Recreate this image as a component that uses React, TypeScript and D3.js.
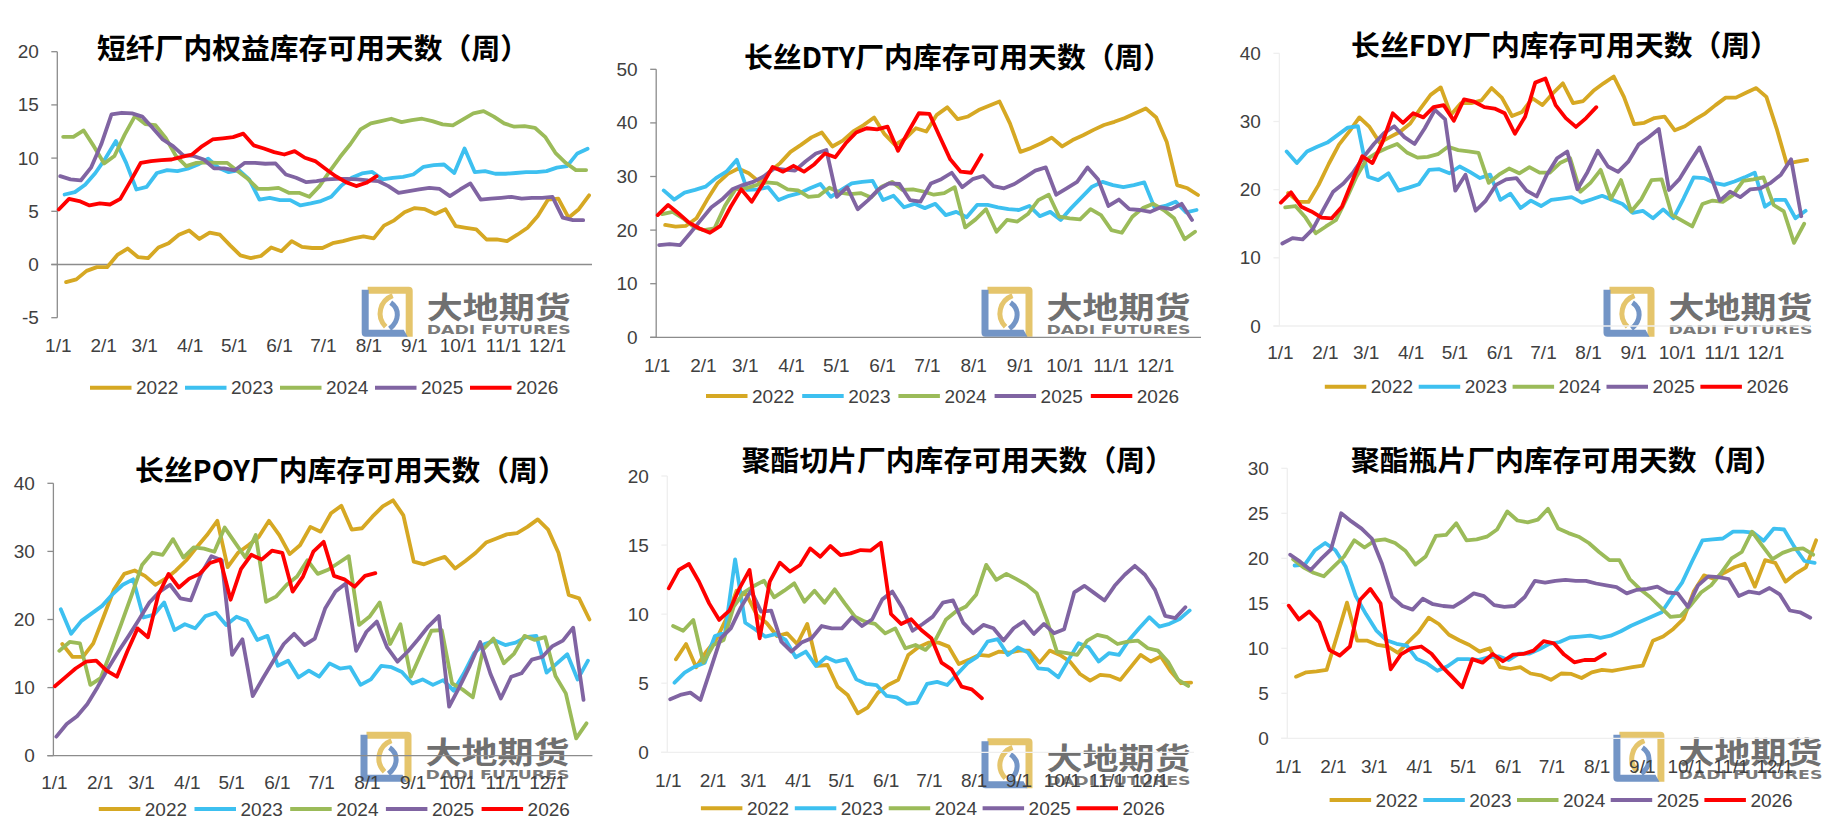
import * as d3 from "d3";

// ---- data ----
const years = ["2022", "2023", "2024", "2025", "2026"];
const firstWeeks = ["2022-01-07", "2023-01-06", "2024-01-05", "2025-01-03", "2026-01-02"];
const lineColors = ["#D6A823", "#3DC0F0", "#9BBB59", "#8064A2", "#FF0000"];
const monthTicks = ["1/1", "2/1", "3/1", "4/1", "5/1", "6/1", "7/1", "8/1", "9/1", "10/1", "11/1", "12/1"];

// 短纤厂内权益库存可用天数
const psf2022 = [-1.66, -1.4, -0.6, -0.25, -0.25, 0.9, 1.5, 0.7, 0.6, 1.6, 2.0, 2.8, 3.2, 2.4, 3.0, 2.8, 1.8, 0.85, 0.6, 0.8, 1.6, 1.25, 2.2, 1.65, 1.55, 1.55, 2.0, 2.2, 2.45, 2.65, 2.45, 3.65, 4.15, 4.9, 5.3, 5.2, 4.75, 5.2, 3.6, 3.45, 3.3, 2.35, 2.35, 2.2, 2.8, 3.45, 4.55, 6.1, 6.2, 4.4, 5.2, 6.5];
const psf2023 = [6.58, 6.8, 7.5, 8.6, 10.0, 11.6, 9.55, 7.05, 7.3, 8.6, 8.87, 8.78, 9.0, 9.4, 9.94, 9.1, 8.68, 8.87, 8.0, 6.1, 6.27, 6.05, 6.05, 5.55, 5.74, 5.96, 6.36, 7.43, 8.15, 8.56, 8.7, 8.0, 8.15, 8.24, 8.46, 9.18, 9.34, 9.4, 8.6, 10.9, 8.68, 8.78, 8.53, 8.53, 8.6, 8.68, 8.68, 8.78, 9.1, 9.25, 10.44, 10.88];
const psf2024 = [12.0, 12.0, 12.6, 11.1, 9.5, 10.2, 12.2, 13.95, 13.2, 13.1, 11.9, 10.2, 9.25, 9.55, 9.6, 9.55, 9.55, 8.78, 8.05, 7.1, 7.1, 7.2, 6.74, 6.74, 6.36, 7.37, 8.78, 10.1, 11.3, 12.7, 13.26, 13.48, 13.7, 13.38, 13.57, 13.7, 13.48, 13.17, 13.07, 13.64, 14.2, 14.42, 13.9, 13.26, 12.95, 13.0, 12.85, 12.0, 10.5, 9.56, 8.87, 8.87];
const psf2025 = [8.3, 8.0, 7.9, 9.1, 11.3, 14.1, 14.26, 14.2, 13.9, 12.85, 11.75, 11.13, 10.25, 10.2, 9.87, 9.03, 9.03, 8.84, 9.56, 9.56, 9.47, 9.5, 8.46, 8.15, 7.74, 7.84, 8.0, 8.05, 8.05, 8.0, 7.9, 7.84, 7.37, 6.74, 6.9, 7.05, 7.2, 7.1, 6.43, 7.05, 7.62, 6.1, 6.2, 6.27, 6.36, 6.2, 6.27, 6.27, 6.36, 4.4, 4.17, 4.17];
const psf2026 = [5.17, 6.17, 5.96, 5.55, 5.74, 5.64, 6.17, 7.84, 9.56, 9.72, 9.8, 9.87, 10.12, 10.34, 11.13, 11.75, 11.85, 11.97, 12.3, 11.2, 10.9, 10.56, 10.34, 10.66, 10.03, 9.72, 9.0, 8.3, 7.74, 7.37, 7.68, 8.3];

// 长丝DTY
const dty2022 = [20.96, 20.65, 20.8, 22.2, 25.6, 28.7, 30.5, 31.5, 30.6, 29.0, 30.9, 32.5, 34.6, 35.9, 37.3, 38.2, 35.6, 36.7, 38.4, 39.6, 41.0, 37.9, 35.9, 37.1, 39.0, 38.4, 41.5, 42.9, 40.7, 41.2, 42.4, 43.2, 44.0, 39.9, 34.6, 35.3, 36.2, 37.25, 35.6, 36.8, 37.7, 38.7, 39.6, 40.2, 40.9, 41.8, 42.7, 41.0, 36.5, 28.4, 27.8, 26.55];
const dty2023 = [27.4, 25.7, 27.0, 27.5, 28.1, 29.7, 30.9, 33.1, 27.5, 27.6, 28.0, 25.6, 26.4, 26.9, 27.8, 28.6, 26.2, 27.5, 28.7, 29.0, 29.2, 25.6, 26.4, 24.25, 24.9, 24.1, 24.9, 22.8, 23.4, 22.4, 24.7, 24.7, 24.25, 23.9, 23.75, 24.5, 22.6, 23.4, 21.9, 24.1, 26.1, 28.1, 29.0, 28.4, 28.0, 28.4, 28.9, 24.1, 24.5, 25.3, 23.3, 23.75];
const dty2024 = [23.0, 23.4, 22.2, 20.6, 20.0, 20.3, 24.5, 27.6, 27.8, 28.4, 28.9, 28.7, 27.6, 27.4, 26.2, 26.4, 27.9, 27.0, 26.7, 26.9, 26.1, 28.1, 29.0, 27.5, 27.6, 27.2, 26.6, 26.9, 28.0, 20.5, 22.0, 23.9, 19.7, 21.9, 21.6, 23.0, 25.6, 26.6, 22.5, 22.2, 22.0, 23.9, 22.8, 20.0, 19.5, 22.5, 24.1, 24.9, 23.75, 22.2, 18.3, 19.7];
const dty2025 = [17.2, 17.4, 17.2, 19.5, 21.9, 24.25, 25.7, 27.6, 28.4, 29.0, 30.0, 31.5, 31.3, 31.1, 32.8, 34.3, 34.95, 26.2, 28.0, 23.9, 25.6, 27.6, 28.7, 28.6, 25.6, 25.3, 28.7, 29.5, 30.7, 28.0, 29.5, 30.1, 28.2, 27.8, 28.6, 29.85, 31.1, 31.7, 26.6, 27.8, 29.0, 31.7, 29.5, 24.5, 25.7, 23.9, 23.75, 23.4, 24.25, 23.9, 24.9, 21.9];
const dty2026 = [22.8, 24.7, 23.1, 21.4, 20.3, 19.5, 20.8, 24.4, 27.6, 25.3, 28.4, 31.8, 30.9, 32.0, 30.9, 32.3, 34.3, 33.6, 36.2, 38.2, 39.0, 38.8, 39.3, 34.8, 38.4, 41.8, 41.7, 37.4, 33.2, 30.9, 30.7, 34.0];

// 长丝FDY
const fdy2022 = [19.5, 18.2, 18.2, 20.7, 23.8, 26.6, 28.5, 30.6, 29.2, 26.9, 27.7, 28.5, 29.7, 31.9, 33.9, 35.0, 31.0, 32.7, 32.7, 33.1, 34.9, 33.5, 30.8, 31.4, 33.4, 32.4, 34.1, 35.6, 32.7, 33.0, 34.5, 35.6, 36.6, 33.6, 29.6, 29.8, 30.5, 30.7, 28.7, 29.3, 30.3, 31.2, 32.4, 33.5, 33.5, 34.2, 34.9, 33.6, 29.0, 23.8, 24.1, 24.35];
const fdy2023 = [25.6, 23.9, 25.6, 26.3, 26.9, 28.0, 29.1, 29.3, 21.9, 21.4, 22.4, 19.85, 20.3, 20.8, 22.9, 23.0, 22.4, 23.4, 22.6, 21.7, 22.2, 18.5, 19.4, 17.3, 18.4, 17.6, 18.5, 18.7, 18.9, 18.1, 18.6, 19.1, 18.5, 17.9, 16.6, 16.9, 15.8, 17.1, 15.8, 18.7, 21.8, 21.7, 21.0, 20.7, 21.2, 21.8, 22.5, 17.5, 18.5, 18.5, 15.8, 16.9];
const fdy2024 = [17.4, 17.6, 15.9, 13.6, 14.6, 15.55, 18.6, 21.9, 24.45, 25.4, 26.1, 26.7, 25.4, 24.7, 24.8, 25.2, 26.3, 25.8, 25.6, 25.4, 21.0, 22.2, 23.1, 22.4, 23.3, 22.5, 22.5, 23.9, 24.6, 19.7, 21.0, 22.9, 18.6, 21.4, 16.8, 18.6, 21.4, 21.5, 16.3, 15.45, 14.6, 17.9, 18.4, 18.2, 19.2, 21.3, 21.5, 21.8, 17.75, 16.8, 12.2, 15.0];
const fdy2025 = [12.1, 12.9, 12.7, 14.2, 17.0, 19.7, 20.9, 22.6, 24.8, 26.7, 28.3, 29.3, 27.7, 26.7, 29.0, 31.7, 30.3, 19.85, 22.2, 16.9, 18.4, 20.7, 21.5, 21.7, 19.85, 19.0, 22.2, 24.6, 25.6, 20.05, 22.6, 25.7, 23.4, 22.6, 24.1, 26.6, 27.7, 28.9, 19.95, 21.5, 23.9, 26.2, 22.4, 18.4, 19.7, 18.9, 20.05, 20.2, 21.0, 22.2, 24.45, 16.1];
const fdy2026 = [18.1, 19.6, 17.5, 16.8, 15.9, 15.8, 17.5, 21.2, 24.9, 23.9, 27.0, 31.2, 29.8, 31.2, 30.6, 32.1, 32.4, 30.1, 33.25, 32.9, 32.1, 31.9, 31.2, 28.2, 30.7, 35.7, 36.3, 32.4, 30.5, 29.2, 30.5, 32.1];

// 长丝POY
const poy2022 = [16.4, 14.5, 14.5, 16.5, 20.4, 24.4, 26.7, 27.2, 26.4, 25.1, 26.0, 27.2, 28.7, 30.6, 32.4, 34.5, 27.7, 29.8, 30.9, 32.1, 34.5, 32.4, 29.6, 30.9, 33.6, 32.9, 35.6, 36.7, 33.2, 33.4, 35.1, 36.6, 37.5, 35.3, 28.5, 28.1, 28.7, 29.2, 27.5, 28.6, 29.8, 31.3, 31.9, 32.5, 32.7, 33.6, 34.7, 33.2, 29.8, 23.6, 23.1, 20.0];
const poy2023 = [21.5, 17.9, 19.8, 20.9, 22.0, 23.7, 25.1, 25.9, 20.3, 20.7, 22.5, 18.45, 19.3, 18.7, 20.5, 21.0, 19.2, 20.4, 19.8, 17.0, 17.6, 13.2, 13.95, 11.5, 12.5, 11.6, 13.56, 12.8, 13.0, 10.4, 11.2, 13.2, 13.0, 12.3, 10.6, 11.2, 10.4, 11.1, 9.55, 12.1, 15.1, 16.4, 16.9, 16.25, 16.6, 17.4, 17.6, 12.2, 13.56, 14.9, 11.2, 13.95];
const poy2024 = [15.4, 16.7, 16.5, 10.4, 11.4, 15.3, 19.4, 23.6, 28.0, 29.8, 29.5, 31.8, 29.1, 30.6, 30.4, 29.95, 33.5, 31.3, 29.1, 32.4, 22.6, 23.4, 25.1, 26.3, 28.7, 26.7, 27.3, 28.3, 29.3, 19.2, 20.4, 22.5, 16.4, 19.3, 11.6, 15.0, 18.35, 18.45, 10.6, 9.74, 8.57, 15.6, 17.2, 13.56, 15.0, 17.6, 17.0, 17.4, 11.7, 9.15, 2.55, 4.75];
const poy2025 = [2.8, 4.65, 5.8, 7.6, 10.1, 12.8, 15.3, 17.6, 20.0, 22.5, 24.1, 25.1, 23.1, 22.8, 26.7, 29.3, 28.7, 14.8, 17.1, 8.76, 11.4, 13.95, 16.4, 17.9, 16.25, 17.2, 21.6, 24.1, 25.3, 15.4, 18.2, 19.7, 15.9, 13.8, 15.3, 17.1, 19.0, 20.5, 7.2, 10.1, 13.2, 16.7, 12.0, 8.4, 11.6, 12.1, 14.1, 14.5, 16.1, 16.9, 18.8, 8.2];
const poy2026 = [10.2, 11.5, 12.8, 13.8, 13.95, 12.5, 11.6, 15.3, 18.7, 17.4, 23.6, 26.7, 24.7, 26.0, 26.7, 28.3, 28.8, 22.9, 27.4, 29.5, 28.8, 30.1, 29.8, 24.1, 26.3, 29.95, 31.4, 26.4, 25.9, 24.8, 26.4, 26.8];

// 聚酯切片
const chip2022 = [6.73, 7.84, 6.15, 7.29, 8.18, 9.7, 11.7, 11.39, 9.94, 9.34, 8.42, 8.61, 7.84, 9.29, 6.25, 6.32, 4.75, 4.15, 2.82, 3.26, 4.32, 4.87, 5.24, 7.04, 7.6, 7.94, 7.94, 7.65, 6.39, 6.69, 7.05, 6.98, 7.29, 7.21, 7.36, 7.36, 6.49, 7.36, 7.05, 6.57, 5.67, 5.19, 5.6, 5.53, 5.24, 6.15, 7.05, 6.57, 6.93, 5.84, 5.0, 5.05];
const chip2023 = [5.04, 5.77, 6.2, 6.49, 8.42, 8.66, 13.97, 9.38, 8.9, 8.37, 8.56, 8.13, 6.88, 7.29, 6.25, 6.88, 6.56, 6.73, 5.28, 4.95, 4.87, 4.08, 3.98, 3.5, 3.6, 4.95, 5.1, 4.87, 5.67, 6.45, 6.93, 8.02, 8.19, 7.05, 7.6, 7.21, 6.08, 6.0, 5.43, 6.69, 7.9, 7.6, 6.57, 7.17, 7.05, 8.13, 8.98, 9.78, 9.1, 9.3, 9.64, 10.27];
const chip2024 = [9.14, 8.8, 9.58, 6.49, 7.77, 8.13, 10.54, 11.56, 12.04, 12.42, 11.22, 11.7, 12.23, 10.9, 11.7, 10.83, 11.8, 10.78, 9.82, 9.46, 9.29, 8.61, 8.97, 7.53, 7.77, 7.41, 8.18, 9.59, 10.19, 10.55, 11.4, 13.57, 12.48, 12.92, 12.53, 12.12, 11.52, 9.59, 7.29, 7.17, 7.05, 8.09, 8.5, 8.33, 7.84, 8.01, 8.09, 7.53, 7.36, 6.56, 5.24, 4.8];
const chip2025 = [3.84, 4.15, 4.32, 3.79, 6.0, 8.25, 8.97, 10.49, 11.7, 10.18, 10.25, 8.01, 7.29, 7.94, 8.25, 9.14, 8.97, 8.97, 9.77, 9.14, 9.63, 11.07, 11.63, 10.42, 8.8, 9.29, 9.82, 10.84, 10.99, 9.39, 8.62, 9.22, 8.98, 8.09, 8.98, 9.47, 8.57, 9.29, 8.62, 8.91, 11.57, 12.05, 11.52, 10.99, 12.05, 12.85, 13.5, 12.85, 11.76, 9.88, 9.71, 10.5];
const chip2026 = [11.87, 13.2, 13.63, 12.35, 10.78, 9.58, 10.25, 11.87, 13.2, 8.25, 12.35, 13.73, 13.08, 13.56, 14.76, 14.15, 14.93, 14.28, 14.4, 14.64, 14.6, 15.17, 10.01, 9.29, 9.63, 8.85, 8.25, 6.49, 6.0, 4.75, 4.56, 3.91];

// 聚酯瓶片
const bottle2022 = [6.85, 7.33, 7.44, 7.6, 11.3, 15.07, 10.85, 10.85, 10.37, 10.2, 9.5, 10.7, 11.8, 13.4, 12.7, 11.5, 10.9, 10.37, 9.63, 10.0, 7.9, 7.7, 7.9, 7.2, 7.0, 6.5, 7.2, 7.15, 6.7, 7.33, 7.6, 7.5, 7.7, 7.9, 8.07, 10.85, 11.3, 12.15, 13.26, 16.3, 18.1, 17.7, 18.4, 19.0, 19.4, 16.85, 19.8, 19.5, 17.4, 18.3, 19.0, 22.0];
const bottle2023 = [19.2, 19.3, 20.9, 21.7, 20.9, 19.1, 15.8, 13.8, 12.0, 10.9, 10.5, 10.3, 8.8, 8.3, 7.5, 8.0, 8.8, 8.8, 8.7, 9.0, 9.1, 8.7, 9.4, 9.4, 9.9, 10.5, 10.7, 11.2, 11.3, 11.4, 11.15, 11.4, 11.9, 12.5, 13.0, 13.5, 14.0, 15.7, 17.3, 19.7, 22.0, 22.1, 22.2, 22.96, 22.96, 22.85, 21.96, 23.3, 23.2, 21.3, 19.7, 19.5];
const bottle2024 = [19.9, 19.0, 18.4, 18.0, 19.1, 20.2, 22.0, 21.2, 21.96, 22.1, 21.7, 20.85, 19.3, 20.2, 22.5, 22.6, 23.9, 22.0, 22.1, 22.4, 23.2, 25.2, 24.2, 24.0, 24.3, 25.5, 23.3, 22.8, 22.4, 21.7, 20.7, 19.8, 19.8, 17.7, 16.6, 15.7, 14.6, 13.5, 13.6, 14.8, 16.2, 17.0, 18.4, 20.0, 20.7, 22.96, 21.4, 19.9, 20.6, 21.0, 21.1, 20.4];
const bottle2025 = [20.4, 19.6, 18.7, 19.9, 21.0, 25.0, 24.1, 23.3, 22.2, 19.4, 15.7, 14.7, 14.3, 15.5, 14.9, 14.7, 14.6, 15.3, 16.1, 15.8, 14.8, 14.6, 14.7, 15.7, 17.5, 17.3, 17.5, 17.6, 17.5, 17.5, 17.2, 17.0, 16.8, 16.1, 16.5, 16.6, 16.85, 16.2, 16.1, 14.6, 17.0, 18.0, 17.9, 17.7, 15.8, 16.3, 16.1, 16.7, 16.0, 14.2, 14.0, 13.4];
const bottle2026 = [14.74, 13.2, 14.1, 12.9, 9.8, 9.2, 10.2, 15.4, 16.6, 15.0, 7.67, 9.33, 10.0, 10.2, 9.4, 8.0, 6.85, 5.67, 8.8, 8.4, 9.37, 8.56, 9.3, 9.37, 9.74, 10.8, 10.55, 9.3, 8.44, 8.7, 8.7, 9.37];

type Panel = {
  title: string;
  series: number[][];
  yMin: number;
  yMax: number;
  yStep: number;
  left: number;
  right: number;
  top: number;
  bottom: number;
  titleX: number;
  titleY: number;
  xLabelY: number;
  legendX: number;
  legendY: number;
  legendStep: number;
  markX: number;
  markY: number;
  faint: boolean;
};

const panels: Panel[] = [
  { title: "短纤厂内权益库存可用天数（周）", series: [psf2022, psf2023, psf2024, psf2025, psf2026], yMin: -5, yMax: 20, yStep: 5, left: 57.3, right: 592, top: 51.7, bottom: 317.7, titleX: 313, titleY: 46.7, xLabelY: 345, legendX: 90, legendY: 387.7, legendStep: 95, markX: 361.7, markY: 286.7, faint: false },
  { title: "长丝DTY厂内库存可用天数（周）", series: [dty2022, dty2023, dty2024, dty2025, dty2026], yMin: 0, yMax: 50, yStep: 10, left: 656.2, right: 1201, top: 69.3, bottom: 337.3, titleX: 958, titleY: 55, xLabelY: 365, legendX: 706, legendY: 396, legendStep: 96.2, markX: 981.5, markY: 286.7, faint: false },
  { title: "长丝FDY厂内库存可用天数（周）", series: [fdy2022, fdy2023, fdy2024, fdy2025, fdy2026], yMin: 0, yMax: 40, yStep: 10, left: 1279.4, right: 1810, top: 53.3, bottom: 326, titleX: 1565, titleY: 43.3, xLabelY: 352.7, legendX: 1324.8, legendY: 386.7, legendStep: 93.9, markX: 1603.5, markY: 286.7, faint: true },
  { title: "长丝POY厂内库存可用天数（周）", series: [poy2022, poy2023, poy2024, poy2025, poy2026], yMin: 0, yMax: 40, yStep: 10, left: 53.4, right: 592.4, top: 483.3, bottom: 755.7, titleX: 350.8, titleY: 468.3, xLabelY: 782.7, legendX: 98.8, legendY: 809, legendStep: 95.7, markX: 360.5, markY: 731.7, faint: false },
  { title: "聚酯切片厂内库存可用天数（周）", series: [chip2022, chip2023, chip2024, chip2025, chip2026], yMin: 0, yMax: 20, yStep: 5, left: 667.3, right: 1194, top: 476, bottom: 752.3, titleX: 957.8, titleY: 458.3, xLabelY: 780, legendX: 700.9, legendY: 808.3, legendStep: 93.9, markX: 981.5, markY: 738.3, faint: true },
  { title: "聚酯瓶片厂内库存可用天数（周）", series: [bottle2022, bottle2023, bottle2024, bottle2025, bottle2026], yMin: 0, yMax: 30, yStep: 5, left: 1287.3, right: 1819, top: 468.3, bottom: 738.3, titleX: 1567, titleY: 458.3, xLabelY: 766, legendX: 1329.6, legendY: 800, legendStep: 93.7, markX: 1613.4, markY: 731.7, faint: true },
];

const parseDay = d3.timeParse("%Y-%m-%d");
const dayOfYear = (d: Date) => d3.timeDay.count(d3.timeYear.floor(d), d);
const monthDays = monthTicks.map((_, m) => dayOfYear(new Date(2023, m, 1)));

const tickFont = "'Liberation Sans', Arial, sans-serif";
const cjkFont = "'Noto Sans CJK SC', sans-serif";

function Watermark({ x, y }: { x: number; y: number }) {
  return (
    <g transform={`translate(${x},${y})`}>
      <path d="M6,0 H47 Q51,0 51,4 V50 H44 V7 H6 Z" fill="#E5C56C" />
      <path d="M0,3 H7 V43 H42 L46,50 H4 Q0,50 0,46 Z" fill="#7395C6" />
      <path d="M31,9 C18,14 14,30 24,40" fill="none" stroke="#E5C56C" strokeWidth={5} />
      <path d="M29,16 C38,22 38,34 28,42" fill="none" stroke="#7395C6" strokeWidth={5} />
      <text x={65} y={31} fontSize={30} fontWeight={700} fill="#707070" fontFamily={cjkFont} textLength={144} lengthAdjust="spacingAndGlyphs">大地期货</text>
      <text x={65} y={47} fontSize={12} fontWeight={700} fill="#7a7a7a" fontFamily="'DejaVu Sans', sans-serif" textLength={144} lengthAdjust="spacingAndGlyphs">DADI FUTURES</text>
    </g>
  );
}

function ChartPanel({ p }: { p: Panel }) {
  const x = d3.scaleLinear().domain([0, 365]).range([p.left, p.right]);
  const y = d3.scaleLinear().domain([p.yMin, p.yMax]).range([p.bottom, p.top]);
  const yTicks = d3.range(p.yMin, p.yMax + p.yStep / 2, p.yStep);
  const axisColor = p.faint ? "#EFEFEF" : "#8C8C8C";
  const line = d3
    .line<[number, number]>()
    .x((d) => x(d[0]))
    .y((d) => y(d[1]))
    .curve(d3.curveLinear);

  const paths = p.series.map((values, k) => {
    const start = parseDay(firstWeeks[k]) as Date;
    const pts = values.map((v, i) => [dayOfYear(d3.timeDay.offset(start, 7 * i)), v] as [number, number]);
    return line(pts) ?? "";
  });

  return (
    <g>
      <Watermark x={p.markX} y={p.markY} />
      {/* axes */}
      <line x1={p.left} x2={p.left} y1={y(p.yMax)} y2={y(p.yMin)} stroke={axisColor} strokeWidth={1.3} />
      <line x1={p.left - 6} x2={p.right} y1={y(0)} y2={y(0)} stroke={axisColor} strokeWidth={1.3} />
      {yTicks.map((t) => (
        <g key={t}>
          <line x1={p.left - 6} x2={p.left} y1={y(t)} y2={y(t)} stroke={axisColor} strokeWidth={1.3} />
          <text x={p.left - 18.5} y={y(t)} textAnchor="end" dominantBaseline="central" fontSize={19} fill="#404040" fontFamily={tickFont}>
            {t}
          </text>
        </g>
      ))}
      {monthTicks.map((m, i) => (
        <text key={m} x={x(monthDays[i]) + 1} y={p.xLabelY} textAnchor="middle" dominantBaseline="central" fontSize={19} fill="#404040" fontFamily={tickFont}>
          {m}
        </text>
      ))}
      {/* series */}
      {paths.map((d, k) => (
        <path key={years[k]} d={d} fill="none" stroke={lineColors[k]} strokeWidth={3.8} strokeLinejoin="round" strokeLinecap="round" />
      ))}
      {/* title */}
      <text x={p.titleX} y={p.titleY} textAnchor="middle" dominantBaseline="central" fontSize={28.8} fontWeight={700} fill="#000" fontFamily={cjkFont}>
        {p.title}
      </text>
      {/* legend */}
      {years.map((yr, k) => {
        const lx = p.legendX + k * p.legendStep;
        return (
          <g key={yr}>
            <line x1={lx} x2={lx + 41.5} y1={p.legendY} y2={p.legendY} stroke={lineColors[k]} strokeWidth={4} />
            <text x={lx + 46} y={p.legendY} dominantBaseline="central" fontSize={19} fill="#404040" fontFamily={tickFont}>
              {yr}
            </text>
          </g>
        );
      })}
    </g>
  );
}

export default function App() {
  return (
    <svg width={1846} height={835} style={{ position: "absolute", left: 0, top: 0, background: "#fff" }}>
      <rect width={1846} height={835} fill="#fff" />
      {panels.map((p) => (
        <ChartPanel key={p.title} p={p} />
      ))}
    </svg>
  );
}
